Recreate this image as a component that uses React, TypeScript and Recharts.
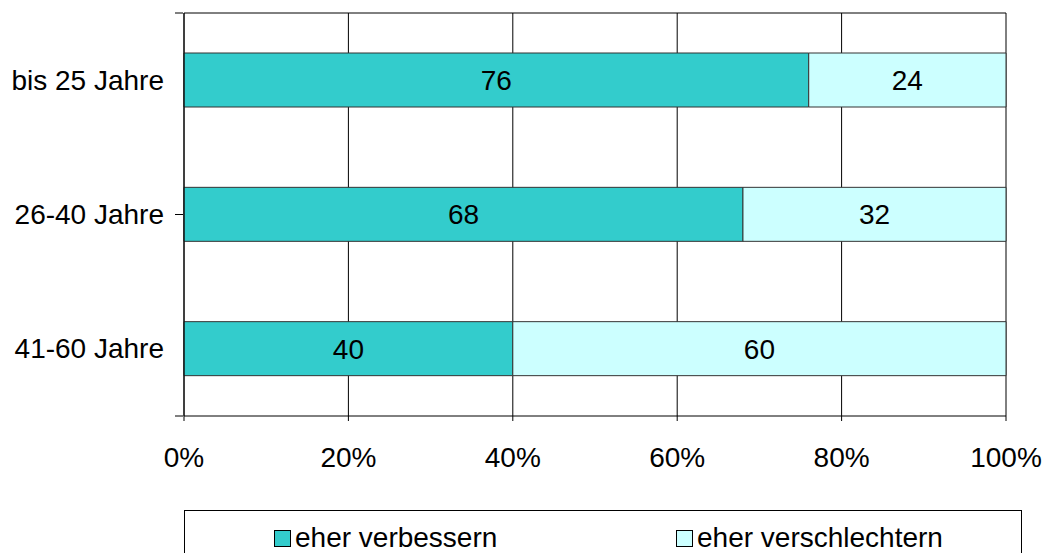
import { BarChart, Bar, XAxis, YAxis, CartesianGrid, LabelList } from "recharts";

const groups = ["bis 25 Jahre", "26-40 Jahre", "41-60 Jahre"];
const verbessern = [76, 68, 40];
const verschlechtern = [24, 32, 60];
const xTicks = [0, 20, 40, 60, 80, 100];

const data = groups.map((g, i) => ({
  group: g,
  verbessern: verbessern[i],
  verschlechtern: verschlechtern[i],
}));

const font = "'Liberation Sans', Arial, sans-serif";

function GroupTick(props: any) {
  const { x, y, payload } = props;
  return (
    <text x={x - 18} y={y} textAnchor="end" dominantBaseline="central" fill="#000" fontSize={28} fontFamily={font}>
      {payload.value}
    </text>
  );
}

function LegendBox() {
  const item = (color: string, label: string, left: number) => (
    <div style={{ position: "absolute", left, top: 13, display: "flex", alignItems: "center" }}>
      <span
        style={{
          display: "inline-block",
          width: 15,
          height: 15,
          background: color,
          border: "1px solid #000",
          marginRight: 4,
        }}
      />
      <span style={{ fontSize: 28, lineHeight: "28px" }}>{label}</span>
    </div>
  );
  return (
    <div
      style={{
        position: "absolute",
        left: 184,
        top: 510,
        width: 838,
        height: 60,
        border: "1px solid #000",
        boxSizing: "border-box",
        fontFamily: font,
        color: "#000",
      }}
    >
      {item("#33CCCC", "eher verbessern", 89)}
      {item("#CCFFFF", "eher verschlechtern", 491)}
    </div>
  );
}

export default function App() {
  return (
    <div style={{ position: "absolute", left: 0, top: 0, width: 1050, height: 553, background: "#fff", overflow: "hidden" }}>
      <BarChart
        width={1050}
        height={553}
        data={data}
        layout="vertical"
        margin={{ top: 12, right: 44, left: 0, bottom: 77 }}
        style={{ fontFamily: font }}
      >
        <CartesianGrid horizontal={false} stroke="#000" />
        <XAxis
          type="number"
          domain={[0, 100]}
          ticks={xTicks}
          tickFormatter={(v) => `${v}%`}
          height={60}
          tickSize={5}
          tickMargin={26}
          stroke="#000"
          tick={{ fill: "#000", fontSize: 28 }}
        />
        <XAxis
          xAxisId="top"
          orientation="top"
          type="number"
          domain={[0, 100]}
          height={1}
          ticks={[0, 100]}
          tickFormatter={() => ""}
          tickLine={false}
          stroke="#000"
        />
        <YAxis
          type="category"
          dataKey="group"
          width={1}
          tickSize={0}
          tickLine={false}
          stroke="#000"
          tick={<GroupTick />}
        />
        <YAxis
          yAxisId="frame"
          type="number"
          domain={[0, 3]}
          ticks={[0, 1, 2, 3]}
          width={183}
          tickSize={8}
          axisLine={false}
          tickFormatter={() => ""}
          stroke="#000"
        />
        <Bar dataKey="verbessern" stackId="a" fill="#33CCCC" stroke="#333" barSize={54} isAnimationActive={false}>
          <LabelList dataKey="verbessern" position="center" fill="#000" fontSize={28} />
        </Bar>
        <Bar dataKey="verschlechtern" stackId="a" fill="#CCFFFF" stroke="#333" barSize={54} isAnimationActive={false}>
          <LabelList dataKey="verschlechtern" position="center" fill="#000" fontSize={28} />
        </Bar>
      </BarChart>
      <LegendBox />
    </div>
  );
}
